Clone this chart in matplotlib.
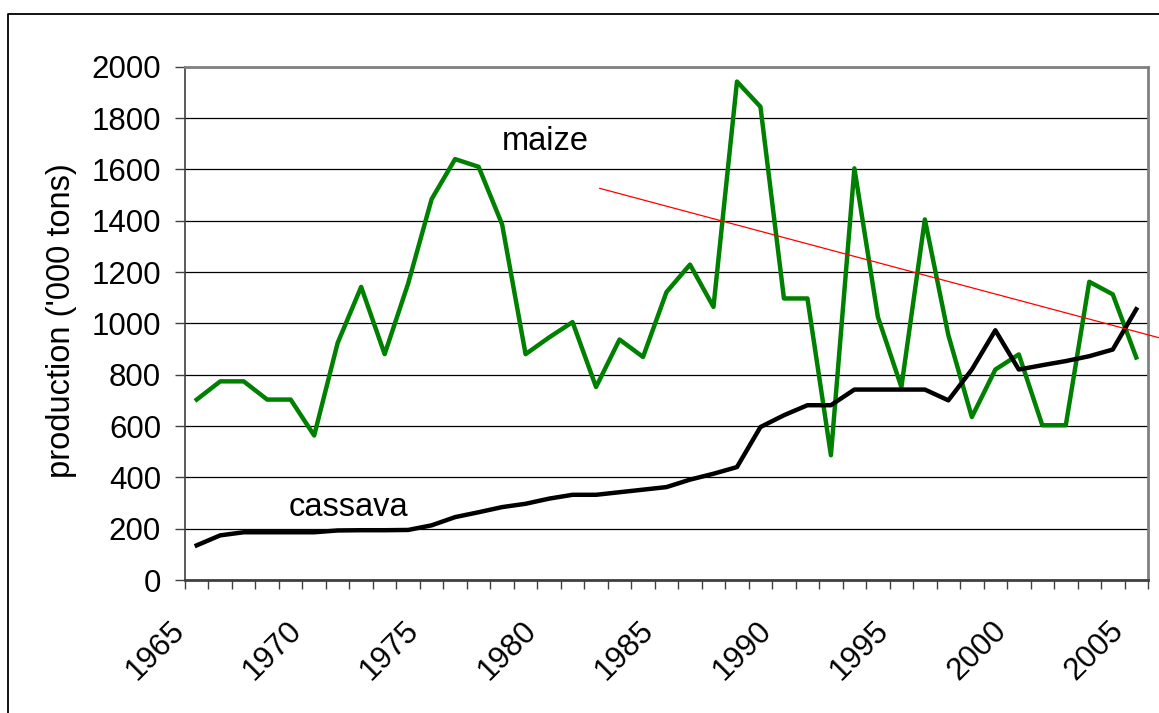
import matplotlib

matplotlib.use("Agg")
import matplotlib.pyplot as plt
from matplotlib.lines import Line2D
from matplotlib.transforms import ScaledTranslation

plt.rcParams["font.family"] = ["Liberation Sans", "DejaVu Sans"]

# data ('000 tons)
years = list(range(1965, 2006))
maize = [703, 774, 774, 703, 703, 563, 924, 1142, 880, 1155, 1484, 1640, 1610,
         1386, 880, 945, 1005, 752, 937, 869, 1122, 1229, 1064, 1942, 1844, 1097,
         1097, 486, 1604, 1025, 752, 1405, 954, 635, 820, 879, 603, 603, 1162,
         1113, 867]
cassava = [135, 174, 186, 186, 186, 186, 193, 194, 194, 195, 213, 245, 264, 284,
           297, 317, 332, 332, 342, 352, 362, 391, 414, 440, 596, 642, 681, 681,
           742, 742, 742, 742, 700, 820, 973, 820, 837, 853, 872, 898, 1055]
# hand-drawn red trend line (category index, value)
trend_x = [17.16, 41.5]
trend_y = [1526, 931]
label_years = [1965, 1970, 1975, 1980, 1985, 1990, 1995, 2000, 2005]
y_ticks = list(range(0, 2001, 200))

W, H, DPI = 1159, 713, 100
FS_TICK = 22.5
FS_TEXT = 23.5

fig = plt.figure(figsize=(W / DPI, H / DPI), dpi=DPI)
ax = fig.add_axes([185 / W, 1 - 580 / H, (1148 - 185) / W, (580 - 66.7) / H])

idx = list(range(len(years)))
ax.plot(idx, maize, color="#008000", lw=3.2, solid_joinstyle="round", zorder=3)
ax.plot(idx, cassava, color="black", lw=3.2, solid_joinstyle="round", zorder=3)
ax.plot(trend_x, trend_y, color="red", lw=0.9, clip_on=False, zorder=4)

ax.text(13.0, 1675, "maize", fontsize=FS_TEXT, ha="left", va="baseline")
ax.text(3.92, 248, "cassava", fontsize=FS_TEXT, ha="left", va="baseline")

ax.set_xlim(-0.5, len(years) - 0.5)
ax.set_ylim(0, 2000)

# y axis
ax.set_yticks(y_ticks)
ax.set_yticklabels([str(v) for v in y_ticks], fontsize=FS_TICK)
ax.tick_params(axis="y", direction="out", length=7.2, width=1, color="#404040", pad=10)
ax.yaxis.grid(True, color="black", lw=0.9)
ax.set_axisbelow(True)

# x axis: boundary ticks, labels every five categories
ax.set_xticks([i - 0.5 for i in range(len(years) + 1)])
ax.set_xticklabels([])
ax.tick_params(axis="x", which="major", direction="out", length=6.5, width=1, color="#404040")
ax.set_xticks([years.index(y) for y in label_years], [str(y) for y in label_years], minor=True)
ax.tick_params(axis="x", which="minor", length=0, pad=33.5, labelsize=FS_TICK)
shift = ScaledTranslation(-17 / DPI, 0, fig.dpi_scale_trans)
for lab in ax.get_xticklabels(minor=True):
    lab.set_rotation(45)
    lab.set_ha("right")
    lab.set_va("center")
    lab.set_rotation_mode("anchor")
    lab.set_transform(lab.get_transform() + shift)

ax.set_ylabel("production ('000 tons)", fontsize=FS_TEXT)
ax.yaxis.set_label_coords((77 - 185) / (1148 - 185), (580 - 320.5) / (580 - 66.7))

for side in ("top", "right"):
    ax.spines[side].set_color("#808080")
    ax.spines[side].set_linewidth(2)
ax.spines["left"].set_color("#404040")
ax.spines["left"].set_linewidth(1.2)
ax.spines["bottom"].set_color("#404040")
ax.spines["bottom"].set_linewidth(2)

# outer chart frame (right and bottom edges fall outside the image)
fig.add_artist(Line2D([8 / W, 8 / W, 1.0], [0.0, 1 - 14 / H, 1 - 14 / H],
                      transform=fig.transFigure, color="black", lw=1.3))

fig.savefig("out.png", dpi=DPI)
